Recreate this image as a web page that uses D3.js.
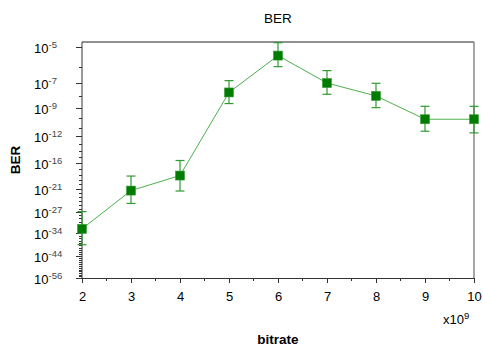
<!DOCTYPE html>
<html>
<head>
<meta charset="utf-8">
<script src="https://cdn.jsdelivr.net/npm/d3@7"></script>
<style>
  body { margin: 0; background: #fff; }
  svg { display: block; font-family: "Liberation Sans", Arial, sans-serif; }
</style>
</head>
<body>
<div id="chart"></div>
<script>
// bitrate in units of 1e9, BER as log10 exponents
let bitrate = [2, 3, 4, 5, 6, 7, 8, 9, 10];
let berExp = [-32.5, -21.4, -18.2, -7.7, -5.41, -7.02, -7.97, -10.08, -10.08];
let berHi = [-26.9, -18.3, -15.5, -6.86, -4.81, -6.23, -7.04, -8.84, -8.84];
let berLo = [-38.7, -24.6, -21.5, -8.6, -6.0, -7.84, -8.96, -11.4, -11.6];
let yTicks = [-5, -7, -9, -12, -16, -21, -27, -34, -44, -56];
let xTicks = [2, 3, 4, 5, 6, 7, 8, 9, 10];

(function() {
    let W = 483, H = 347;
    let m = {left: 82, right: 474, top: 42, bottom: 278};

    let svg = d3.select('#chart')
        .append('svg')
        .attr('width', W)
        .attr('height', H);

    let x = d3.scaleLinear()
        .domain([2, 10])
        .range([m.left, m.right]);

    // double-log axis: position follows log(-exponent - 1)
    let yLog = d3.scaleLog()
        .domain([3.78, 55])
        .range([m.top, m.bottom]);
    let y = e => yLog(-e - 1);

    // frame
    svg.append('line')
        .attr('x1', m.left).attr('x2', m.right)
        .attr('y1', m.top).attr('y2', m.top)
        .attr('stroke', '#222').attr('stroke-width', 1);
    svg.append('line')
        .attr('x1', m.right).attr('x2', m.right)
        .attr('y1', m.top).attr('y2', m.bottom)
        .attr('stroke', '#888').attr('stroke-width', 1.5);

    // x axis
    let xAxis = svg.append('g')
        .attr('transform', 'translate(0,' + m.bottom + ')')
        .call(d3.axisBottom(x).tickValues(xTicks).tickSize(5).tickSizeOuter(0));
    xAxis.select('.domain').attr('stroke', '#333');
    xAxis.selectAll('.tick line').attr('stroke', '#333');
    xAxis.selectAll('text')
        .attr('font-size', 13)
        .attr('fill', '#000')
        .attr('dy', '1.15em');
    let xMinor = d3.range(2.5, 10, 1);
    svg.append('g')
        .selectAll('line')
        .data(xMinor)
        .enter()
        .append('line')
        .attr('x1', d => x(d)).attr('x2', d => x(d))
        .attr('y1', m.bottom).attr('y2', m.bottom + 3)
        .attr('stroke', '#333');

    // y axis
    svg.append('line')
        .attr('x1', m.left).attr('x2', m.left)
        .attr('y1', m.top).attr('y2', m.bottom)
        .attr('stroke', '#333');
    let minor = d3.range(-5, -57, -1).filter(e => !yTicks.includes(e));
    svg.append('g')
        .selectAll('line')
        .data(minor)
        .enter()
        .append('line')
        .attr('x1', m.left - 3).attr('x2', m.left)
        .attr('y1', d => Math.round(y(d)) + 0.5).attr('y2', d => Math.round(y(d)) + 0.5)
        .attr('stroke', '#333');
    let yt = svg.append('g')
        .selectAll('g')
        .data(yTicks)
        .enter()
        .append('g')
        .attr('transform', d => 'translate(0,' + (Math.round(y(d)) + 0.5) + ')');
    yt.append('line')
        .attr('x1', m.left - 6).attr('x2', m.left)
        .attr('stroke', '#333');
    let lbl = yt.append('text')
        .attr('x', 34)
        .attr('y', 5)
        .attr('font-size', 13)
        .attr('fill', '#000');
    lbl.append('tspan').text('10');
    lbl.append('tspan')
        .attr('dy', -5)
        .attr('font-size', 9.5)
        .attr('fill', '#444')
        .text(d => String(d));

    // line
    let pts = bitrate.map((b, i) => ({b: b, e: berExp[i], hi: berHi[i], lo: berLo[i]}));
    svg.append('path')
        .datum(pts)
        .attr('fill', 'none')
        .attr('stroke', '#4cb04c')
        .attr('stroke-width', 1)
        .attr('d', d3.line().x(d => x(d.b)).y(d => y(d.e)));

    // error bars
    let eb = svg.append('g')
        .attr('stroke', '#2f9a2f')
        .attr('stroke-width', 1.2);
    eb.selectAll('.v')
        .data(pts)
        .enter()
        .append('line')
        .attr('x1', d => x(d.b)).attr('x2', d => x(d.b))
        .attr('y1', d => y(d.hi)).attr('y2', d => y(d.lo));
    ['hi', 'lo'].forEach(k => {
        eb.selectAll('.' + k)
            .data(pts)
            .enter()
            .append('line')
            .attr('x1', d => x(d.b) - 4.5).attr('x2', d => x(d.b) + 4.5)
            .attr('y1', d => y(d[k])).attr('y2', d => y(d[k]));
    });

    // markers
    svg.append('g')
        .selectAll('rect')
        .data(pts)
        .enter()
        .append('rect')
        .attr('x', d => x(d.b) - 4.5)
        .attr('y', d => y(d.e) - 4.5)
        .attr('width', 9)
        .attr('height', 9)
        .attr('fill', '#007c00')
        .attr('stroke', '#3a9a3a')
        .attr('stroke-width', 0.6);

    // labels
    svg.append('text')
        .attr('x', (m.left + m.right) / 2)
        .attr('y', 23)
        .attr('text-anchor', 'middle')
        .attr('font-size', 13.5)
        .attr('fill', '#000')
        .text('BER');
    svg.append('text')
        .attr('transform', 'translate(20,160) rotate(-90)')
        .attr('text-anchor', 'middle')
        .attr('font-size', 13.5)
        .attr('font-weight', 'bold')
        .attr('fill', '#000')
        .text('BER');
    svg.append('text')
        .attr('x', (m.left + m.right) / 2)
        .attr('y', 344)
        .attr('text-anchor', 'middle')
        .attr('font-size', 13.5)
        .attr('font-weight', 'bold')
        .attr('fill', '#000')
        .text('bitrate');
    let ex = svg.append('text')
        .attr('x', 443)
        .attr('y', 324)
        .attr('font-size', 13)
        .attr('fill', '#000');
    ex.append('tspan').text('x10');
    ex.append('tspan').attr('dy', -5).attr('font-size', 9.5).text('9');
})();
</script>
</body>
</html>
